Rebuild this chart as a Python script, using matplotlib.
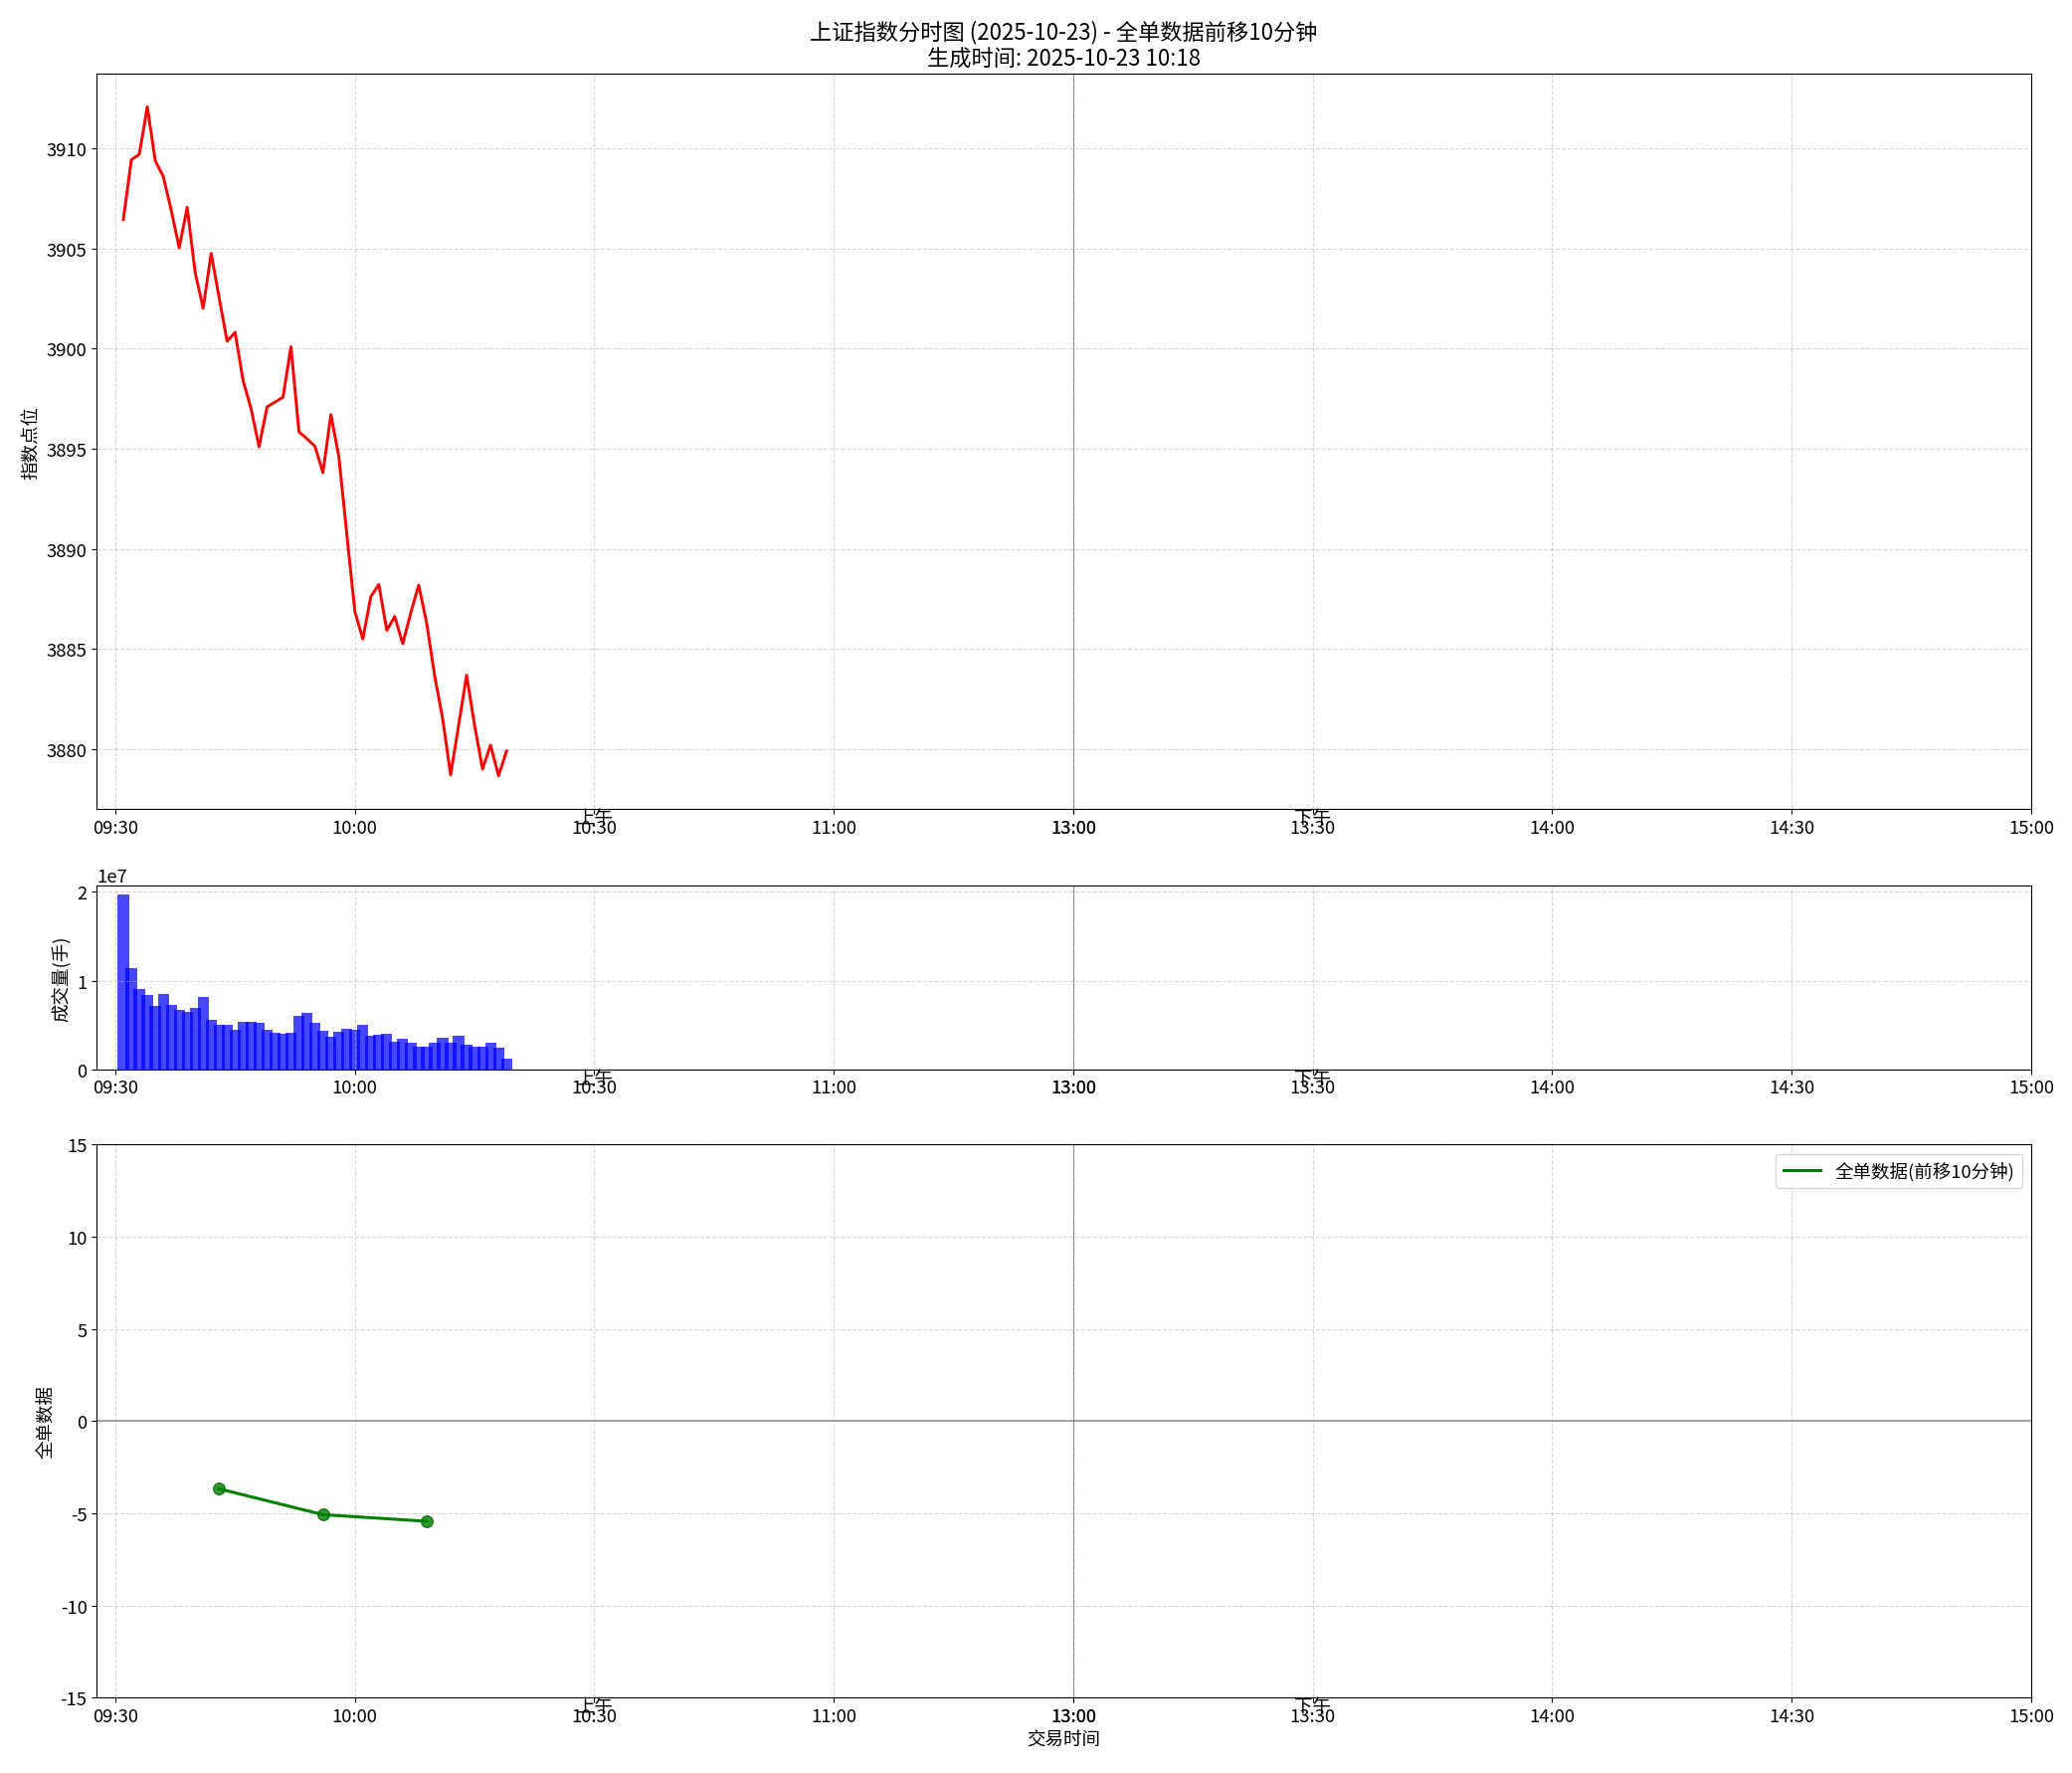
import matplotlib
matplotlib.use('Agg')
import matplotlib.pyplot as plt
import numpy as np

plt.rcParams['font.family'] = ['Noto Sans CJK SC', 'DejaVu Sans']
plt.rcParams['axes.unicode_minus'] = False

# 分时数据 (09:31 起每分钟一个点)
price = [3906.44, 3909.42, 3909.70, 3912.07, 3909.37, 3908.59, 3906.90, 3905.03,
         3907.05, 3903.79, 3902.01, 3904.75, 3902.54, 3900.36, 3900.81, 3898.40,
         3897.00, 3895.09, 3897.08, 3897.33, 3897.57, 3900.09, 3895.84, 3895.50,
         3895.12, 3893.80, 3896.70, 3894.59, 3890.70, 3886.87, 3885.50, 3887.61,
         3888.22, 3885.93, 3886.62, 3885.26, 3886.79, 3888.19, 3886.29, 3883.66,
         3881.52, 3878.71, 3881.19, 3883.69, 3881.19, 3879.00, 3880.20, 3878.67,
         3879.90]

volume = [19740000, 11420000, 9060000, 8390000, 7150000, 8500000, 7270000, 6700000,
          6480000, 6930000, 8160000, 5580000, 5020000, 5020000, 4460000, 5360000,
          5360000, 5240000, 4460000, 4120000, 4010000, 4120000, 6030000, 6370000,
          5240000, 4340000, 3670000, 4230000, 4570000, 4460000, 4980000, 3740000,
          3850000, 3960000, 3090000, 3400000, 2940000, 2600000, 2600000, 2940000,
          3510000, 2940000, 3740000, 2720000, 2600000, 2490000, 2940000, 2380000,
          1250000]

# 全单数据 (前移10分钟)
flow_times = ['09:43', '09:56', '10:09']
flow_values = [-3.67, -5.07, -5.43]

tick_labels = ['09:30', '10:00', '10:30', '11:00', '13:00', '13:00',
               '13:30', '14:00', '14:30', '15:00']
tick_times = ['09:30', '10:00', '10:30', '11:00', '11:30', '13:00',
              '13:30', '14:00', '14:30', '15:00']


def to_idx(t):
    h, m = map(int, t.split(':'))
    mins = h * 60 + m
    if mins <= 11 * 60 + 30:
        return mins - (9 * 60 + 30)
    return 120 + mins - 13 * 60


x = np.arange(1, len(price) + 1)
flow_x = [to_idx(t) for t in flow_times]
ticks = [to_idx(t) for t in tick_times]

fs = 13.3
fig = plt.figure(figsize=(20.83, 17.83), dpi=100)
L, W = 0.0467, 0.9336
ax1 = fig.add_axes([L, 0.5433, W, 0.4148])
ax2 = fig.add_axes([L, 0.3967, W, 0.1036])
ax3 = fig.add_axes([L, 0.0424, W, 0.3119])

ax1.plot(x, price, color='red', linewidth=2.1)
ax1.set_ylabel('指数点位', fontsize=fs)
ax1.set_title('上证指数分时图 (2025-10-23) - 全单数据前移10分钟\n生成时间: 2025-10-23 10:18',
              fontsize=16)

ax2.bar(x, volume, width=1.4, color='blue', alpha=0.72)
ax2.set_ylabel('成交量(手)', fontsize=fs)

ax3.plot(flow_x, flow_values, color='green', linewidth=2.2, label='全单数据(前移10分钟)')
ax3.scatter(flow_x, flow_values, color='green', s=70, alpha=0.8, edgecolors='darkgreen', zorder=5)
ax3.axhline(0, color='gray', linewidth=1.2, alpha=0.8)
ax3.set_ylim(-15, 15)
ax3.set_yticks(np.arange(-15, 16, 5))
ax3.set_ylabel('全单数据', fontsize=fs)
ax3.set_xlabel('交易时间', fontsize=fs)
ax3.legend(loc='upper right', fontsize=fs)

for ax in (ax1, ax2, ax3):
    ax.set_xlim(-2.33, 240)
    ax.set_xticks(ticks)
    ax.set_xticklabels(tick_labels)
    ax.tick_params(labelsize=fs)
    ax.grid(True, linestyle='--', alpha=0.5)
    ax.axvline(120, color='#555555', linewidth=0.6, alpha=0.7)
    ax.text(60, 0.0, '上午', transform=ax.get_xaxis_transform(), ha='center', va='top',
            fontsize=fs, clip_on=False)
    ax.text(150, 0.0, '下午', transform=ax.get_xaxis_transform(), ha='center', va='top',
            fontsize=fs, clip_on=False)

ax2.yaxis.get_offset_text().set_fontsize(fs)

fig.savefig('out.png', dpi=100)
